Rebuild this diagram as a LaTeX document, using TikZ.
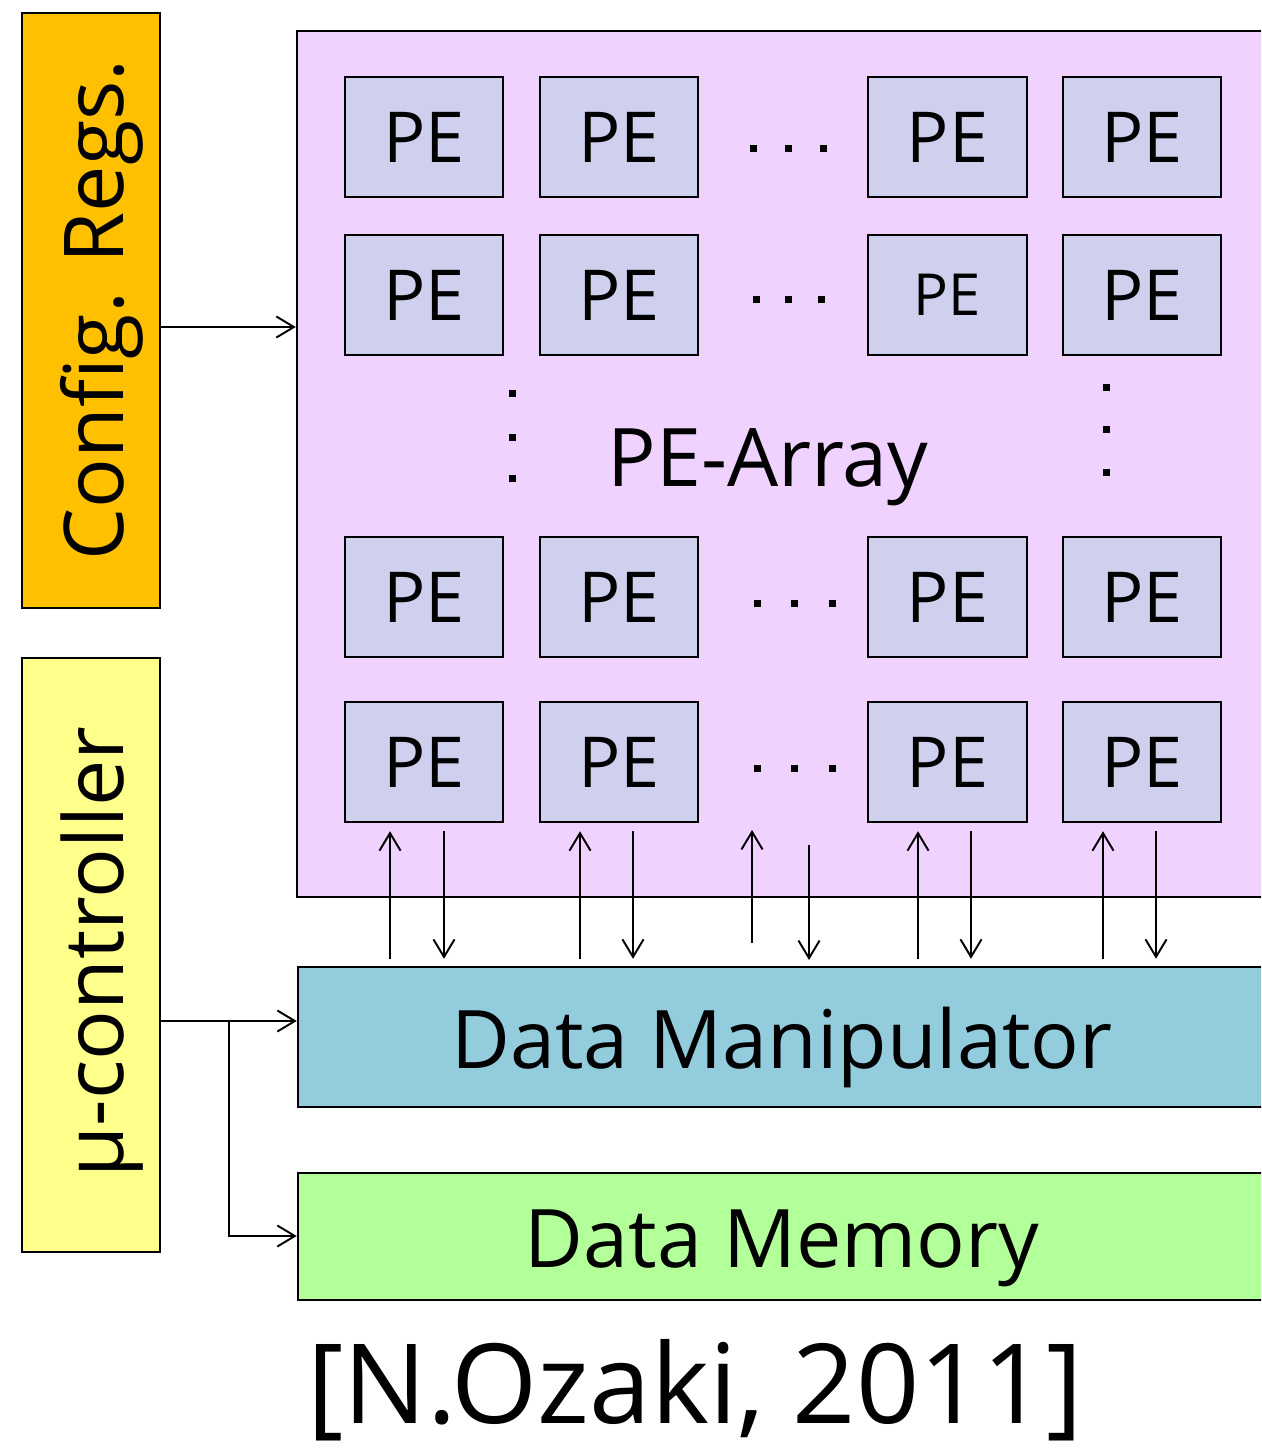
\documentclass[tikz,border=0pt]{standalone}
\usepackage{fontspec}
\setmainfont{Open Sans}
\usetikzlibrary{fit,arrows.meta,calc}

\definecolor{cfgorange}{HTML}{FFC000}
\definecolor{ctrlyellow}{HTML}{FFFF8C}
\definecolor{arraypink}{HTML}{F0D2FF}
\definecolor{pelilac}{HTML}{CFD0EE}
\definecolor{dmblue}{HTML}{93CDDD}
\definecolor{memgreen}{HTML}{B3FF99}

\tikzset{
  blk/.style={draw=black, line width=1.4pt, inner sep=0pt},
  pebox/.style={blk, fill=pelilac},
  petext/.style={font=\fontsize{40}{40}\selectfont, inner sep=0pt},
  sidelabel/.style={rotate=90, anchor=base, inner sep=0pt, font=\fontsize{47}{47}\selectfont},
  biglabel/.style={anchor=base, inner sep=0pt, font=\fontsize{46}{46}\selectfont},
  wire/.style={line width=1.1pt, -{Straight Barb[length=10pt,width=12pt,line width=1.1pt]}},
  dotmark/.style={fill=black},
}

\begin{document}
\begin{tikzpicture}[x=0.02cm, y=-0.02cm]
\useasboundingbox (0,0) rectangle (1261,1449);
\clip (0,0) rectangle (1261,1449);

% side blocks
\node[blk, fill=cfgorange, fit={(22,13) (160,608)}] (cfg) {};
\node[sidelabel] (cfgtxt) at (123,310) {Config. Regs.};
\node[blk, fill=ctrlyellow, fit={(22,658) (160,1252)}] (ctrl) {};
\node[sidelabel] (ctrltxt) at (123,952) {µ-controller};

% PE array
\node[blk, fill=arraypink, fit={(297,31) (1280,897)}] (array) {};
\node[biglabel] (arraytxt) at (768,486) {PE-Array};

% PE grid
\foreach \r/\ya/\yb in {1/77/197, 2/235/355, 3/537/657, 4/702/822}{
  \foreach \c/\xa/\xb in {1/345/503, 2/540/698, 3/868/1027, 4/1063/1221}{
    \node[pebox, fit={(\xa,\ya) (\xb,\yb)}] (pe\r\c) {};
  }
}
\foreach \r in {1,...,4}{
  \foreach \c in {1,...,4}{
    \node[petext] (pet\r\c) at (pe\r\c.center)
      {\ifnum\r\c=23 \fontsize{33}{33}\selectfont PE\else PE\fi};
  }
}

% ellipses between columns and rows
\foreach \y/\xa/\xb/\xc in {149/753/788/823, 300/756/788/821, 603/757/794/832, 768/757/794/832}{
  \foreach \x in {\xa,\xb,\xc}{
    \fill[dotmark] (\x-3.5,\y-3.5) rectangle (\x+3.5,\y+3.5);
  }
}
\foreach \x/\ya/\yb/\yc in {512/393/437/478, 1106/387/429/472}{
  \foreach \y in {\ya,\yb,\yc}{
    \fill[dotmark] (\x-3.5,\y-3.5) rectangle (\x+3.5,\y+3.5);
  }
}

% data manipulator and memory
\node[blk, fill=dmblue, fit={(298,967) (1280,1107)}] (dm) {};
\node[biglabel] (dmtxt) at (782,1068) {Data Manipulator};
\node[blk, fill=memgreen, fit={(298,1173) (1280,1300)}] (mem) {};
\node[biglabel] (memtxt) at (782,1267) {Data Memory};

% citation
\node[font=\fontsize{63}{63}\selectfont] (cite) at (695,1390) {[N.Ozaki, 2011]};

% control connections
\draw[wire] (cfg.east |- 0,327) -- (array.west |- 0,327);
\coordinate (split) at (229,1021);
\draw[wire] (ctrl.east |- split) -- (dm.west |- split);
\draw[wire] (split) |- (mem.west |- 0,1236);

% data paths between PE columns and the manipulator
\foreach \c/\xu/\xd in {1/390/444, 2/580/633, 3/918/971, 4/1103/1156}{
  \draw[wire] ($(dm.north -| \xu,0)+(0,-7)$) -- ($(pe4\c.south -| \xu,0)+(0,8)$);
  \draw[wire] ($(pe4\c.south -| \xd,0)+(0,8)$) -- ($(dm.north -| \xd,0)+(0,-7)$);
}
\coordinate (midup) at (752,943);
\coordinate (middown) at (809,845);
\draw[wire] (midup) -- (midup |- 0,830);
\draw[wire] (middown) -- (middown |- 0,960);
\end{tikzpicture}
\end{document}
